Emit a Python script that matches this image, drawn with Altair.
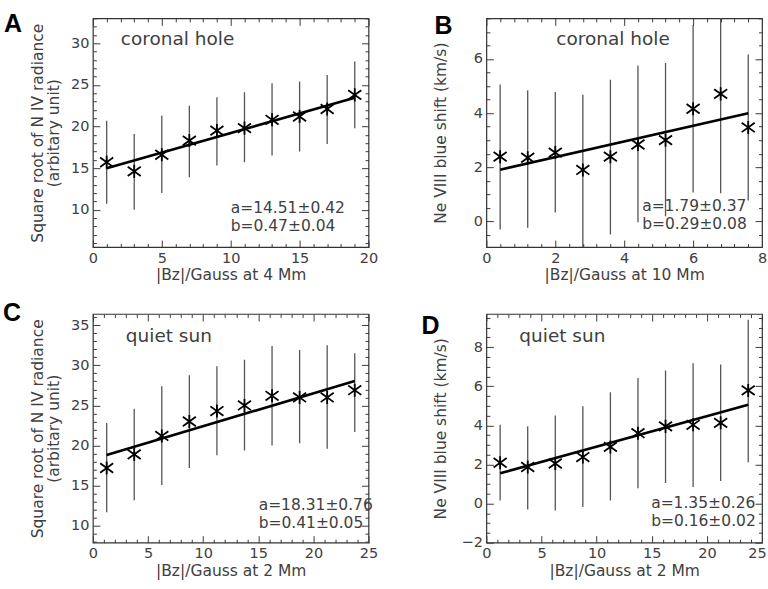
import altair as alt
import pandas as pd

# ---------------- data ----------------
a_x = [1, 3, 5, 7, 9, 11, 13, 15, 17, 19]
a_y = [15.7, 14.6, 16.6, 18.3, 19.5, 19.8, 20.8, 21.2, 22.1, 23.8]
a_lo = [10.7, 10.0, 12.0, 13.9, 15.3, 15.7, 16.5, 17.0, 17.9, 19.8]
a_hi = [20.7, 19.1, 21.3, 22.5, 23.5, 24.1, 25.2, 25.4, 26.2, 27.8]
a_fit_x = [1, 19]
a_fit_y = [14.98, 23.44]

b_x = [0.4, 1.2, 2.0, 2.8, 3.6, 4.4, 5.2, 6.0, 6.8, 7.6]
b_y = [2.39, 2.35, 2.54, 1.90, 2.39, 2.84, 3.00, 4.16, 4.71, 3.47]
b_lo = [-0.30, -0.24, 0.33, -1.30, -0.49, -0.03, 0.19, 1.07, 1.04, 0.77]
b_hi = [5.06, 4.84, 4.78, 4.68, 5.23, 5.76, 5.85, 7.25, 7.90, 6.16]
b_fit_x = [0.4, 7.6]
b_fit_y = [1.91, 3.99]

c_x = [1.25, 3.75, 6.25, 8.75, 11.25, 13.75, 16.25, 18.75, 21.25, 23.75]
c_y = [17.2, 18.9, 21.2, 23.0, 24.3, 25.0, 26.2, 26.0, 26.0, 26.9]
c_lo = [11.7, 13.2, 15.1, 17.2, 18.8, 19.4, 20.0, 20.3, 19.6, 21.7]
c_hi = [22.8, 24.6, 27.4, 28.75, 29.9, 30.7, 32.4, 31.9, 32.5, 31.5]
c_fit_x = [1.25, 23.75]
c_fit_y = [18.82, 28.05]

d_x = [1.25, 3.75, 6.25, 8.75, 11.25, 13.75, 16.25, 18.75, 21.25, 23.75]
d_y = [2.09, 1.87, 2.05, 2.38, 2.90, 3.60, 3.95, 4.03, 4.13, 5.79]
d_lo = [0.16, -0.30, -0.35, -0.18, 0.16, 0.79, 1.05, 0.85, 1.15, 2.12]
d_hi = [4.03, 3.96, 4.51, 4.98, 5.70, 6.42, 6.81, 7.18, 7.11, 9.40]
d_fit_x = [1.25, 23.75]
d_fit_y = [1.55, 5.05]

a_xticks = [0, 5, 10, 15, 20]
a_yticks = [10, 15, 20, 25, 30]
b_xticks = [0, 2, 4, 6, 8]
b_yticks = [0, 2, 4, 6]
c_xticks = [0, 5, 10, 15, 20, 25]
c_yticks = [10, 15, 20, 25, 30, 35]
d_xticks = [0, 5, 10, 15, 20, 25]
d_yticks = [-2, 0, 2, 4, 6, 8]

panel_letters = ["A", "B", "C", "D"]
region_names = ["coronal hole", "coronal hole", "quiet sun", "quiet sun"]
fit_texts = [
    "a=14.51±0.42\nb=0.47±0.04",
    "a=1.79±0.37\nb=0.29±0.08",
    "a=18.31±0.76\nb=0.41±0.05",
    "a=1.35±0.26\nb=0.16±0.02",
]
x_titles = ["|Bz|/Gauss at 4 Mm", "|Bz|/Gauss at 10 Mm",
            "|Bz|/Gauss at 2 Mm", "|Bz|/Gauss at 2 Mm"]
y_titles = [["Square root of N IV radiance", "(arbitary unit)"],
            "Ne VIII blue shift (km/s)",
            ["Square root of N IV radiance", "(arbitary unit)"],
            "Ne VIII blue shift (km/s)"]

# ---------------- styling ----------------
FONT = "DejaVu Sans"
TXT = "#404040"
TICK_MAJ = "#3a3a3a"
TICK_MIN = "#3a3a3a"
W, H = 276, 229
MAJ, MIN = 7, 3.5
STAR = "M0,-1L0,1M-1,-0.72L1,0.72M-1,0.72L1,-0.72"


def minor_ticks(lo, hi, step, major):
    out = []
    n = int(round((hi - lo) / step))
    for i in range(n + 1):
        v = round(lo + i * step, 6)
        if all(abs(v - m) > 1e-6 for m in major):
            out.append(v)
    return out


def axis(orient, values, size, color, **kw):
    base = dict(orient=orient, values=values, tickSize=size, offset=-size,
                domain=False, grid=False, ticks=True, tickColor=color,
                tickWidth=1, labels=False, title=None, zindex=1)
    base.update(kw)
    return alt.Axis(**base)


def panel(x, y, lo, hi, fx, fy, xdom, ydom, xmaj, xmin_step, ymaj, ymin_step,
          xtitle, ytitle, ytitle_x, letter, letter_pos, region, region_pos,
          ann, ann_y, ann_x, x_label_offset=None):
    df = pd.DataFrame({"x": x, "y": y, "lo": lo, "hi": hi})
    fit = pd.DataFrame({"x": fx, "y": fy})
    xs = alt.Scale(domain=xdom, nice=False, zero=False)
    ys = alt.Scale(domain=ydom, nice=False, zero=False)
    xmin_v = minor_ticks(xdom[0], xdom[1], xmin_step, xmaj)
    start = ymaj[0] - ymin_step * int((ymaj[0] - ydom[0]) / ymin_step)
    ymin_v = [v for v in minor_ticks(start, ydom[1], ymin_step, ymaj)
              if ydom[0] <= v <= ydom[1]]

    lab = dict(labels=True, labelFont=FONT, labelFontSize=14.5, labelColor=TXT)
    xkw = dict(lab, labelPadding=4, labelFlush=False, labelOverlap=False,
               title=xtitle, titleFont=FONT, titleFontSize=15.5, titleColor=TXT,
               titleFontWeight="normal", titleY=34.5, titleBaseline="middle")
    if x_label_offset is not None:
        xkw["labelOffset"] = {"condition": {"test": f"datum.value == {xmaj[-1]}",
                                            "value": x_label_offset}, "value": 0}
    ykw = dict(lab, labelPadding=4, title=ytitle, titleFont=FONT,
               titleFontSize=15.5, titleColor=TXT, titleFontWeight="normal",
               titleX=ytitle_x, titleBaseline="middle", titleAngle=270,
               titleLineHeight=15.5)

    bars = alt.Chart(df).mark_rule(color="#555555", strokeWidth=1.3, clip=True).encode(
        x=alt.X("x:Q", scale=xs, axis=axis("bottom", xmaj, MAJ, TICK_MAJ, **xkw)),
        y=alt.Y("lo:Q", scale=ys, axis=axis("left", ymaj, MAJ, TICK_MAJ, **ykw)),
        y2="hi:Q",
    )
    line = alt.Chart(fit).mark_line(color="black", strokeWidth=2.6, clip=True).encode(
        x=alt.X("x:Q", scale=xs, axis=axis("bottom", xmin_v, MIN, TICK_MIN)),
        y=alt.Y("y:Q", scale=ys, axis=axis("left", ymin_v, MIN, TICK_MIN)),
    )
    stars = alt.Chart(df).mark_point(shape=STAR, size=170, filled=False,
                                     stroke="black", strokeWidth=1.8,
                                     opacity=1).encode(
        x=alt.X("x:Q", scale=xs, axis=axis("top", xmaj, MAJ, TICK_MAJ)),
        y=alt.Y("y:Q", scale=ys, axis=axis("right", ymaj, MAJ, TICK_MAJ)),
    )
    dummy = alt.Chart(df).mark_point(opacity=0).encode(
        x=alt.X("x:Q", scale=xs, axis=axis("top", xmin_v, MIN, TICK_MIN)),
        y=alt.Y("y:Q", scale=ys, axis=axis("right", ymin_v, MIN, TICK_MIN)),
    )
    t_letter = alt.Chart(pd.DataFrame({"t": [letter]})).mark_text(
        align="left", baseline="top", font="Liberation Sans", fontWeight="bold",
        fontSize=25, color="black").encode(
        x=alt.value(letter_pos[0]), y=alt.value(letter_pos[1]), text="t:N")
    t_region = alt.Chart(pd.DataFrame({"t": [region]})).mark_text(
        align="left", baseline="middle", font=FONT, fontSize=18.5,
        color=TXT).encode(
        x=alt.value(region_pos[0]), y=alt.value(region_pos[1]), text="t:N")
    t_ann = alt.Chart(pd.DataFrame({"t": [ann]})).mark_text(
        align="left", baseline="middle", font=FONT, fontSize=15.5, color=TXT,
        lineBreak="\n", lineHeight=18).encode(
        x=alt.value(ann_x), y=alt.value(ann_y), text="t:N")

    return alt.layer(bars, line, stars, dummy, t_letter, t_region, t_ann).resolve_axis(
        x="independent", y="independent").properties(width=W, height=H)


pA = panel(a_x, a_y, a_lo, a_hi, a_fit_x, a_fit_y, [0, 20], [5.5, 33.0],
           a_xticks, 1, a_yticks, 1, x_titles[0], y_titles[0], -62,
           panel_letters[0], (-89, -6), region_names[0], (28, 21),
           fit_texts[0], 190, 138)
pB = panel(b_x, b_y, b_lo, b_hi, b_fit_x, b_fit_y, [0, 8], [-0.95, 7.5],
           b_xticks, 0.4, b_yticks, 0.5, x_titles[1], y_titles[1], -53,
           panel_letters[1], (-52, -4), region_names[1], (70, 21),
           fit_texts[1], 188, 156)
pC = panel(c_x, c_y, c_lo, c_hi, c_fit_x, c_fit_y, [0, 25], [7.9, 36.4],
           c_xticks, 1, c_yticks, 1, x_titles[2], y_titles[2], -62,
           panel_letters[2], (-90, -13), region_names[2], (33, 22),
           fit_texts[2], 191, 166)
pD = panel(d_x, d_y, d_lo, d_hi, d_fit_x, d_fit_y, [0, 25], [-2.0, 9.7],
           d_xticks, 1, d_yticks, 0.5, x_titles[3], y_titles[3], -53,
           panel_letters[3], (-65, 0), region_names[3], (33, 22),
           fit_texts[3], 189, 165, x_label_offset=-5)

chart = alt.concat(pA, pB, pC, pD, columns=2, bounds="flush",
                   spacing={"row": 67, "column": 118}).properties(
    padding={"left": 2, "top": 11, "right": 0, "bottom": 0},
    background="white",
).configure_view(stroke="#333333", strokeWidth=1.2)

chart.save("out.html", embed_options={"renderer": "svg", "actions": False})
